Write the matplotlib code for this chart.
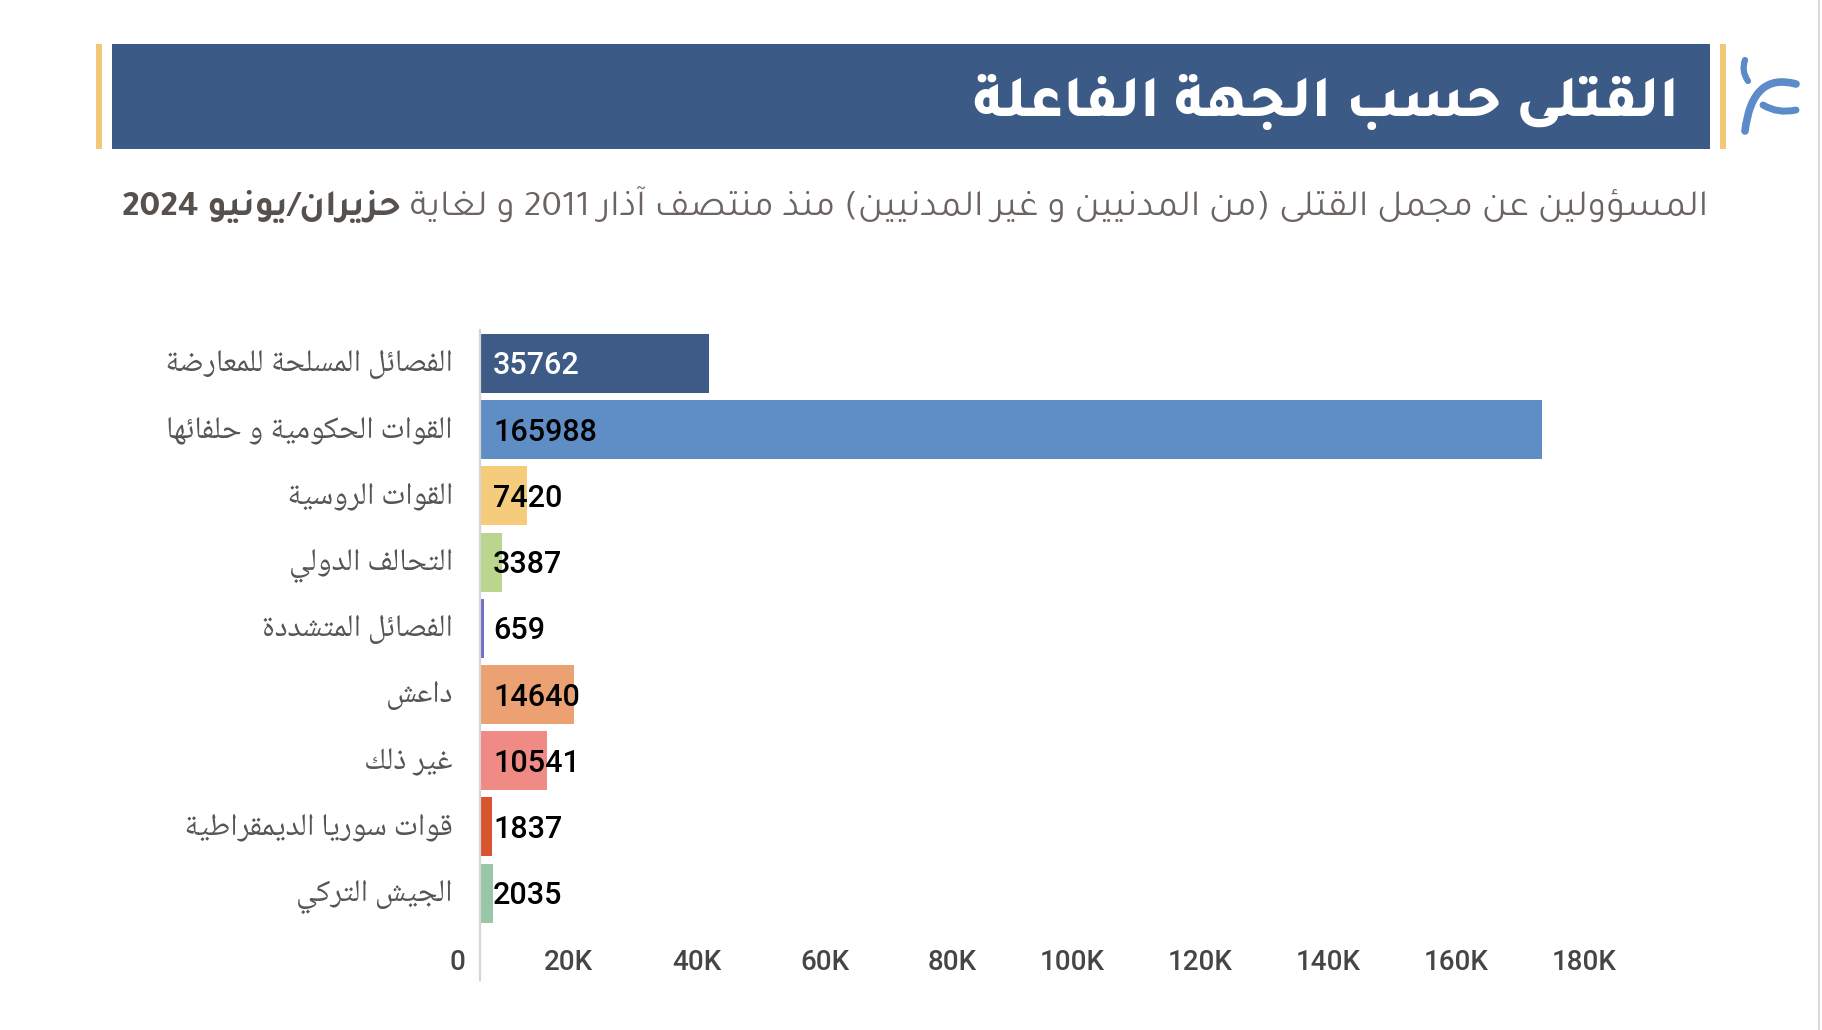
import re
import matplotlib
matplotlib.use('Agg')
import matplotlib.pyplot as plt
from matplotlib import font_manager as fm
from matplotlib.ft2font import FT2Font
from matplotlib.patches import Rectangle, PathPatch
from matplotlib.path import Path
import matplotlib.transforms as mtransforms

# ---------------- data ----------------
categories = [
    'الفصائل المسلحة للمعارضة',
    'القوات الحكومية و حلفائها',
    'القوات الروسية',
    'التحالف الدولي',
    'الفصائل المتشددة',
    'داعش',
    'غير ذلك',
    'قوات سوريا الديمقراطية',
    'الجيش التركي',
]
values = [35762, 165988, 7420, 3387, 659, 14640, 10541, 1837, 2035]
bar_colors = ['#3d5b86', '#5f8dc6', '#f4cc7c', '#bad68e', '#7070c8',
              '#eba172', '#ef8a84', '#d95530', '#9ac6a8']
value_colors = ['white'] + ['black'] * 8
x_ticks = [0, 20000, 40000, 60000, 80000, 100000, 120000, 140000, 160000, 180000]
x_tick_labels = ['0', '20K', '40K', '60K', '80K', '100K', '120K', '140K', '160K', '180K']
title = 'القتلى حسب الجهة الفاعلة'
subtitle_regular = 'المسؤولين عن مجمل القتلى (من المدنيين و غير المدنيين) منذ منتصف آذار 2011 و لغاية'
subtitle_bold = 'حزيران/يونيو 2024'

# ---------------- Arabic shaping (matplotlib has no complex text layout) ----------------
RIGHT_JOIN = {0x0622: 0xFE81, 0x0623: 0xFE83, 0x0624: 0xFE85, 0x0625: 0xFE87,
              0x0627: 0xFE8D, 0x0629: 0xFE93, 0x062F: 0xFEA9, 0x0630: 0xFEAB,
              0x0631: 0xFEAD, 0x0632: 0xFEAF, 0x0648: 0xFEED, 0x0649: 0xFEEF}
DUAL = {0x0626: 0xFE89, 0x0628: 0xFE8F, 0x062A: 0xFE95, 0x062B: 0xFE99,
        0x062C: 0xFE9D, 0x062D: 0xFEA1, 0x062E: 0xFEA5, 0x0633: 0xFEB1,
        0x0634: 0xFEB5, 0x0635: 0xFEB9, 0x0636: 0xFEBD, 0x0637: 0xFEC1,
        0x0638: 0xFEC5, 0x0639: 0xFEC9, 0x063A: 0xFECD, 0x0641: 0xFED1,
        0x0642: 0xFED5, 0x0643: 0xFED9, 0x0644: 0xFEDD, 0x0645: 0xFEE1,
        0x0646: 0xFEE5, 0x0647: 0xFEE9, 0x064A: 0xFEF1}
NONJOIN = {0x0621: 0xFE80}
LAMALEF = {0x0622: 0xFEF5, 0x0623: 0xFEF7, 0x0625: 0xFEF9, 0x0627: 0xFEFB}
ISO_BASE = {}
for _d in (RIGHT_JOIN, DUAL, NONJOIN):
    for _b, _iso in _d.items():
        ISO_BASE[_iso] = _b


def shape(s, cmap=None):
    units = []
    i = 0
    while i < len(s):
        c = ord(s[i])
        if c == 0x0644 and i + 1 < len(s) and ord(s[i + 1]) in LAMALEF:
            units.append(('LA', ord(s[i + 1])))
            i += 2
        else:
            units.append(('C', c))
            i += 1

    def joins_next(u):
        return u[0] == 'C' and (u[1] in DUAL or u[1] == 0x0640)

    def joins_prev(u):
        return u[0] == 'LA' or u[1] in DUAL or u[1] in RIGHT_JOIN or u[1] == 0x0640

    def has(o):
        return cmap is None or o in cmap

    out = []
    for k, u in enumerate(units):
        prev = units[k - 1] if k > 0 else None
        nxt = units[k + 1] if k + 1 < len(units) else None
        cp = prev is not None and joins_next(prev) and joins_prev(u)
        cn = nxt is not None and joins_next(u) and joins_prev(nxt)
        t, c = u
        if t == 'LA':
            lig = LAMALEF[c] + (1 if cp else 0)
            if has(lig):
                out.append(lig)
            else:
                out.append(0xFEDD + (3 if cp else 2))
                out.append(RIGHT_JOIN[c] + 1)
        elif c in DUAL:
            b = DUAL[c]
            out.append(b + 3 if (cp and cn) else b + 1 if cp else b + 2 if cn else b)
        elif c in RIGHT_JOIN:
            out.append(RIGHT_JOIN[c] + (1 if cp else 0))
        elif c in NONJOIN:
            out.append(NONJOIN[c])
        else:
            out.append(c)
    res = []
    for o in out:
        if not has(o) and o in ISO_BASE and has(ISO_BASE[o]):
            o = ISO_BASE[o]
        res.append(chr(o))
    return ''.join(res)


MIRROR = {'(': ')', ')': '(', '[': ']', ']': '['}


def ar(s, cmap=None):
    s = shape(s, cmap)
    tokens = re.findall(r'[0-9A-Za-z]+(?:[.,][0-9A-Za-z]+)*|[^0-9A-Za-z]', s)
    tokens.reverse()
    return ''.join(MIRROR.get(t, t) for t in tokens)


# ---------------- fonts ----------------
installed = {f.name for f in fm.fontManager.ttflist}


def pick(prefs):
    for p in prefs:
        if p in installed:
            return p
    return 'DejaVu Sans'


def charmap(family, weight='normal'):
    try:
        path = fm.findfont(fm.FontProperties(family=family, weight=weight))
        return set(FT2Font(path).get_charmap().keys())
    except Exception:
        return None


TITLE_FONT = pick(['Tajawal', 'Noto Kufi Arabic', 'DejaVu Sans'])
SUB_FONT = pick(['Tajawal', 'Noto Kufi Arabic', 'DejaVu Sans'])
CAT_FONT = pick(['Noto Naskh Arabic UI', 'Noto Naskh Arabic', 'Noto Sans Arabic', 'DejaVu Sans'])
FALLBACK = pick(['Noto Kufi Arabic', 'Noto Sans Arabic', 'DejaVu Sans'])
TITLE_FAM = [TITLE_FONT, FALLBACK, 'DejaVu Sans']
SUB_FAM = [SUB_FONT, FALLBACK, 'DejaVu Sans']
CAT_FAM = [CAT_FONT, FALLBACK, 'DejaVu Sans']
cm_title = charmap(TITLE_FONT, 800)
cm_sub = charmap(SUB_FONT, 'normal')
cm_sub_b = charmap(SUB_FONT, 'bold')
cm_cat = charmap(CAT_FONT, 'normal')

W, H = 1822, 1030
DPI = 100
fig = plt.figure(figsize=(W / DPI, H / DPI), dpi=DPI)
fig.patch.set_facecolor('white')

bg = fig.add_axes([0, 0, 1, 1])
bg.set_xlim(0, W)
bg.set_ylim(H, 0)
bg.axis('off')

bg.add_patch(Rectangle((112, 44), 1598, 105, facecolor='#3c5a86', edgecolor='none'))
bg.add_patch(Rectangle((96, 44), 6, 105, facecolor='#f2c878', edgecolor='none'))
bg.add_patch(Rectangle((1720, 44), 6, 105, facecolor='#f2c878', edgecolor='none'))
bg.plot([1819, 1819], [0, H], color='#d9d9d9', lw=1.5)

logo_c = '#5b8bc8'
for verts, lw in [
    ([(1745, 60), (1741, 71), (1748, 81)], 4.5),
    ([(1796, 84), (1752, 72), (1745, 131)], 5.5),
    ([(1763, 105), (1778, 114), (1796, 110)], 5.0),
]:
    p = Path(verts, [Path.MOVETO, Path.CURVE3, Path.CURVE3])
    bg.add_patch(PathPatch(p, facecolor='none', edgecolor=logo_c, lw=lw, capstyle='round'))

renderer = fig.canvas.get_renderer()


def fit_size(txt, target_w, base=20):
    w = txt.get_window_extent(renderer).width
    return base * target_w / w


t_title = bg.text(1679, 116, ar(title, cm_title), color='white', fontsize=40, fontweight=800,
                  family=TITLE_FAM, ha='right', va='baseline')
t_title.set_fontsize(fit_size(t_title, 706, 40))

t_sub = bg.text(1708, 216, ar(subtitle_regular, cm_sub), color='#6b6461', fontsize=20,
                family=SUB_FAM, ha='right', va='baseline')
t_sub_b = bg.annotate(ar(subtitle_bold, cm_sub_b) + ' ', xy=(0, 0), xycoords=t_sub,
                      color='#57514e', fontsize=20, fontweight='bold', family=SUB_FAM,
                      ha='right', va='bottom')
tot = t_sub.get_window_extent(renderer).width + t_sub_b.get_window_extent(renderer).width
fs = 20 * 1586 / tot
t_sub.set_fontsize(fs)
t_sub_b.set_fontsize(fs)

# ---------------- chart ----------------
u = 66.2
top_px, bot_px = 330.4, 980.0
x0_px = 480.0
px_per_val = 1062.0 / 165988.0
x_right = 180000
ax = fig.add_axes([x0_px / W, (H - bot_px) / H, x_right * px_per_val / W, (bot_px - top_px) / H])
ax.set_xlim(0, x_right)
ax.set_ylim((bot_px - 363.5) / u, -0.5)
ax.patch.set_alpha(0)
for s in ['top', 'right', 'bottom']:
    ax.spines[s].set_visible(False)
ax.spines['left'].set_color('#d4d4d4')
ax.spines['left'].set_linewidth(1.6)
ax.set_xticks([])
ax.set_yticks([])

ypos = list(range(len(categories)))
ax.barh(ypos, values, height=0.89, color=bar_colors, zorder=1)


def off(dx, dy):
    return mtransforms.ScaledTranslation(dx / DPI, -dy / DPI, fig.dpi_scale_trans)


for i, (v, c) in enumerate(zip(values, value_colors)):
    ax.text(0, i, str(v), transform=ax.transData + off(13, 11), color=c,
            fontsize=22, family='Roboto', fontweight='medium', ha='left', va='baseline',
            zorder=3)

cat_texts = []
for i, cat in enumerate(categories):
    t = ax.text(0, i, ar(cat, cm_cat), transform=ax.transData + off(-27, 11.5), color='#555555',
                fontsize=18, family=CAT_FAM, ha='right', va='baseline')
    cat_texts.append(t)
cfs = fit_size(cat_texts[0], 290, 18)
for t in cat_texts:
    t.set_fontsize(cfs)

xt = ax.get_xaxis_transform()
for tv, tl in zip(x_ticks, x_tick_labels):
    ax.text(tv, (bot_px - 970) / (bot_px - top_px), tl, transform=xt + off(-15, 0),
            color='#454545', fontsize=20, family='Roboto', fontweight='medium',
            ha='right', va='baseline', clip_on=False)

fig.savefig('out.png', dpi=DPI, facecolor='white')
